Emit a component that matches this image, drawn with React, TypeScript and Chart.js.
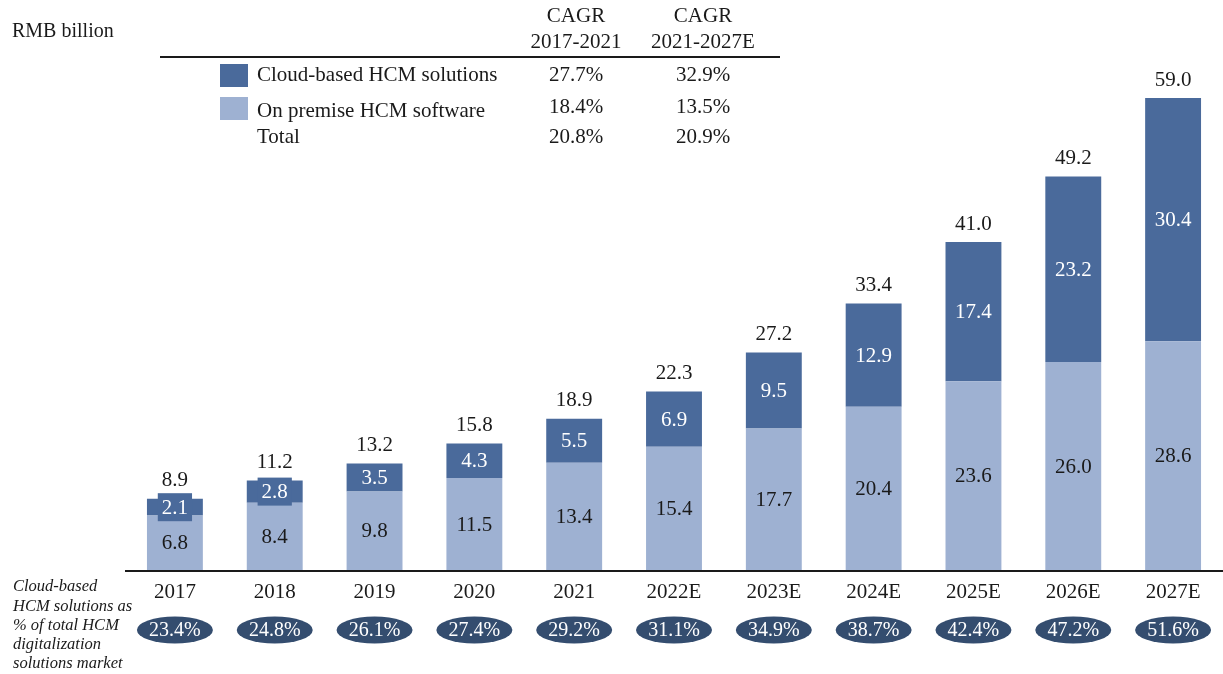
import React, { useEffect, useRef } from "react";
import { Chart, registerables } from "chart.js";

Chart.register(...registerables);

const years = ["2017", "2018", "2019", "2020", "2021", "2022E", "2023E", "2024E", "2025E", "2026E", "2027E"];
const onPremise = [6.8, 8.4, 9.8, 11.5, 13.4, 15.4, 17.7, 20.4, 23.6, 26.0, 28.6];
const cloud = [2.1, 2.8, 3.5, 4.3, 5.5, 6.9, 9.5, 12.9, 17.4, 23.2, 30.4];
const totals = [8.9, 11.2, 13.2, 15.8, 18.9, 22.3, 27.2, 33.4, 41.0, 49.2, 59.0];
const cloudShare = ["23.4%", "24.8%", "26.1%", "27.4%", "29.2%", "31.1%", "34.9%", "38.7%", "42.4%", "47.2%", "51.6%"];
const legendRows = ["Cloud-based HCM solutions", "On premise HCM software", "Total"];
const cagr1721 = ["27.7%", "18.4%", "20.8%"];
const cagr2127 = ["32.9%", "13.5%", "20.9%"];
const cagrHeaders = [["CAGR", "2017-2021"], ["CAGR", "2021-2027E"]];
const sideNote = ["Cloud-based", "HCM solutions as", "% of total HCM", "digitalization", "solutions market"];

const DARK = "#4a6a9b";
const LIGHT = "#9eb1d2";
const OVAL = "#344d6f";
const TEXT = "#1a1a1a";
const FONT = '"Liberation Serif", "Times New Roman", serif';

const overlay = {
  id: "overlay",
  afterDatasetsDraw(chart: any) {
    const ctx = chart.ctx as CanvasRenderingContext2D;
    const area = chart.chartArea;
    const xScale = chart.scales.x;
    ctx.save();

    // axis line
    ctx.strokeStyle = "#1a1a1a";
    ctx.lineWidth = 2;
    ctx.beginPath();
    ctx.moveTo(area.left, area.bottom + 1);
    ctx.lineTo(area.right, area.bottom + 1);
    ctx.stroke();

    const darkMeta = chart.getDatasetMeta(1);
    const lightMeta = chart.getDatasetMeta(0);
    ctx.textAlign = "center";
    ctx.textBaseline = "middle";

    years.forEach((y, i) => {
      ctx.font = `21px ${FONT}`;
      const lb = lightMeta.data[i];
      const db = darkMeta.data[i];
      // light segment label
      ctx.fillStyle = TEXT;
      ctx.fillText(onPremise[i].toFixed(1), lb.x, (lb.y + lb.base) / 2 + 1);
      // dark segment label
      const cy = (db.y + db.base) / 2;
      const h = Math.abs(db.base - db.y);
      const txt = cloud[i].toFixed(1);
      if (h < 26) {
        const w = ctx.measureText(txt).width + 8;
        ctx.fillStyle = DARK;
        ctx.fillRect(db.x - w / 2, cy - 14, w, 28);
      }
      ctx.fillStyle = "#ffffff";
      ctx.fillText(txt, db.x, cy + 1);
      // total label
      ctx.fillStyle = TEXT;
      ctx.fillText(totals[i].toFixed(1), db.x, db.y - 18);

      // x labels
      const x = xScale.getPixelForValue(i);
      ctx.fillStyle = TEXT;
      ctx.fillText(y, x, 592);

      // ovals
      ctx.fillStyle = OVAL;
      ctx.beginPath();
      ctx.ellipse(x, 630, 38, 13.5, 0, 0, Math.PI * 2);
      ctx.fill();
      ctx.fillStyle = "#ffffff";
      ctx.font = `20px ${FONT}`;
      ctx.fillText(cloudShare[i], x, 631);
    });

    // unit
    ctx.font = `20px ${FONT}`;
    ctx.textAlign = "left";
    ctx.fillStyle = TEXT;
    ctx.fillText("RMB billion", 12, 32);

    // legend table
    ctx.font = `21px ${FONT}`;
    const cols = [576, 703];
    ctx.textAlign = "center";
    cagrHeaders.forEach((hd, c) => {
      ctx.fillText(hd[0], cols[c], 16);
      ctx.fillText(hd[1], cols[c], 42);
    });
    ctx.strokeStyle = "#1a1a1a";
    ctx.lineWidth = 2;
    ctx.beginPath();
    ctx.moveTo(160, 57);
    ctx.lineTo(780, 57);
    ctx.stroke();

    const rowY = [75, 108, 137];
    const swatch = [DARK, LIGHT];
    legendRows.forEach((r, k) => {
      if (k < 2) {
        ctx.fillStyle = swatch[k];
        ctx.fillRect(220, rowY[k] - 11, 28, 23);
      }
      ctx.fillStyle = TEXT;
      ctx.textAlign = "left";
      ctx.fillText(r, 257, rowY[k] + (k === 1 ? 3 : 0));
      ctx.textAlign = "center";
      ctx.fillText(cagr1721[k], cols[0], rowY[k] - (k === 1 ? 1 : 0));
      ctx.fillText(cagr2127[k], cols[1], rowY[k] - (k === 1 ? 1 : 0));
    });

    // side note
    ctx.textAlign = "left";
    ctx.font = `italic 16.5px ${FONT}`;
    sideNote.forEach((s, k) => {
      ctx.fillText(s, 13, 587 + k * 19.2);
    });

    ctx.restore();
  },
};

export default function App() {
  const ref = useRef<HTMLCanvasElement | null>(null);
  useEffect(() => {
    if (!ref.current) return;
    const chart = new Chart(ref.current, {
      type: "bar",
      data: {
        labels: years,
        datasets: [
          { label: "On premise HCM software", data: onPremise, backgroundColor: LIGHT, borderWidth: 0 },
          { label: "Cloud-based HCM solutions", data: cloud, backgroundColor: DARK, borderWidth: 0 },
        ],
      },
      options: {
        responsive: false,
        animation: false,
        devicePixelRatio: 1,
        layout: { padding: { top: 90, bottom: 104, left: 125, right: 0 } },
        datasets: { bar: { barPercentage: 0.56, categoryPercentage: 1 } },
        scales: {
          x: { stacked: true, display: false },
          y: { stacked: true, display: false, min: 0, max: 60 },
        },
        plugins: { legend: { display: false }, tooltip: { enabled: false } },
      },
      plugins: [overlay],
    });
    return () => chart.destroy();
  }, []);
  return (
    <div style={{ position: "absolute", left: 0, top: 0, width: 1223, height: 674, background: "#fff" }}>
      <canvas ref={ref} width={1223} height={674} style={{ display: "block" }} />
    </div>
  );
}
